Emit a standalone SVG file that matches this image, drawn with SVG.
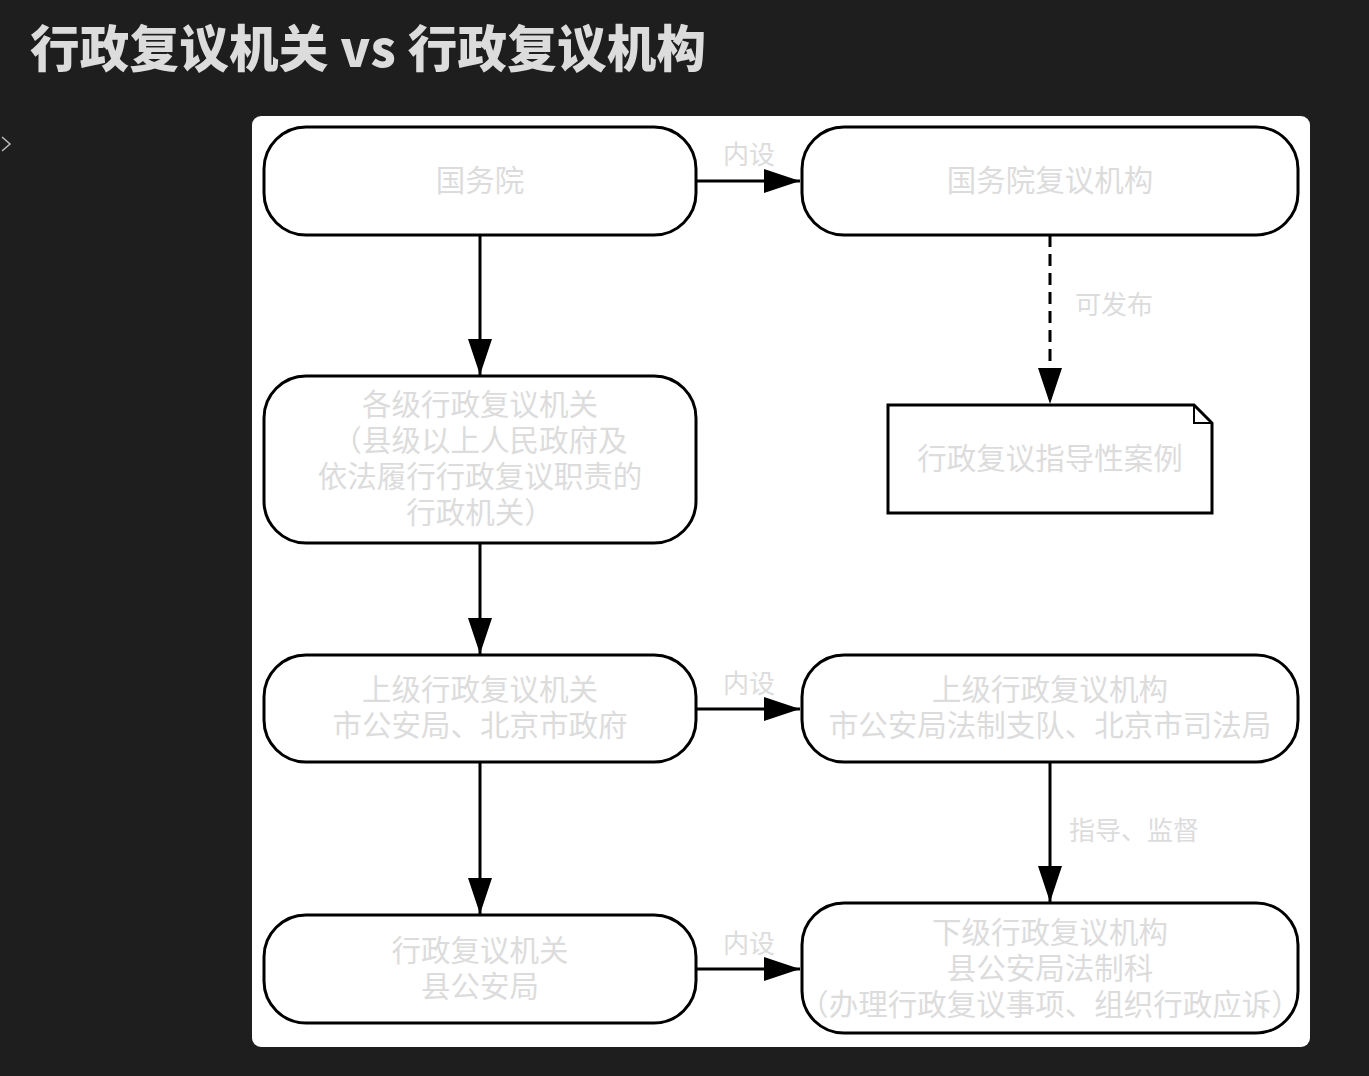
<svg xmlns="http://www.w3.org/2000/svg" width="1369" height="1076" viewBox="0 0 1369 1076">
<defs>
<style>
.bg{fill:#1e1e1e}
.panel{fill:#ffffff}
.node{fill:#ffffff;stroke:#000000;stroke-width:3}
.t{font-family:"Noto Sans CJK SC","Noto Sans",sans-serif;font-size:29.5px;fill:#dcdcdc;text-anchor:middle}
.lbl{font-family:"Noto Sans CJK SC","Noto Sans",sans-serif;font-size:26px;fill:#dcdcdc;text-anchor:middle}
.edge{fill:none;stroke:#000000;stroke-width:3}
.dash{stroke-dasharray:12 7}
.title{font-family:"Noto Sans CJK SC","Noto Sans",sans-serif;font-size:49.5px;font-weight:900;fill:#dcdcdc}
</style>
<marker id="arr" viewBox="0 0 36 24" refX="36" refY="12" markerWidth="36" markerHeight="24" markerUnits="userSpaceOnUse" orient="auto">
<path d="M0,0 L36,12 L0,24 Z" fill="#000000"/>
</marker>
</defs>
<rect class="bg" x="0" y="0" width="1369" height="1076"/>
<text class="title" x="30" y="67" textLength="676" lengthAdjust="spacing">行政复议机关 vs 行政复议机构</text>
<path d="M2,137 L10,144 L2,151" fill="none" stroke="#bbbbbb" stroke-width="1.5"/>
<rect class="panel" x="252" y="116" width="1058" height="931" rx="9"/>

<g id="connectors">
<path class="edge" d="M696,181 L800,181" marker-end="url(#arr)"/>
<text class="lbl" x="749" y="164">内设</text>
<path class="edge" d="M480,235 L480,375" marker-end="url(#arr)"/>
<path class="edge dash" d="M1050,235 L1050,404" marker-end="url(#arr)"/>
<text class="lbl" x="1114" y="314">可发布</text>
<path class="edge" d="M480,543 L480,654" marker-end="url(#arr)"/>
<path class="edge" d="M696,709 L800,709" marker-end="url(#arr)"/>
<text class="lbl" x="749" y="693">内设</text>
<path class="edge" d="M480,762 L480,914" marker-end="url(#arr)"/>
<path class="edge" d="M1050,762 L1050,902" marker-end="url(#arr)"/>
<text class="lbl" x="1134" y="840">指导、监督</text>
<path class="edge" d="M696,969 L800,969" marker-end="url(#arr)"/>
<text class="lbl" x="749" y="953">内设</text>
</g>

<g id="n-guowuyuan">
<rect class="node" x="264" y="127" width="432" height="108" rx="42"/>
<text class="t" x="480" y="191">国务院</text>
</g>
<g id="n-guowuyuan-jigou">
<rect class="node" x="802" y="127" width="496" height="108" rx="42"/>
<text class="t" x="1050" y="191">国务院复议机构</text>
</g>
<g id="n-geji">
<rect class="node" x="264" y="376" width="432" height="167" rx="42"/>
<text class="t" y="415"><tspan x="480">各级行政复议机关</tspan><tspan x="480" dy="36">（县级以上人民政府及</tspan><tspan x="480" dy="36">依法履行行政复议职责的</tspan><tspan x="480" dy="36">行政机关）</tspan></text>
</g>
<g id="n-anli">
<path class="node" d="M888,405 L1194,405 L1212,423 L1212,513 L888,513 Z"/>
<path d="M1194,405 L1194,423 L1212,423" fill="none" stroke="#000000" stroke-width="2"/>
<text class="t" x="1050" y="469">行政复议指导性案例</text>
</g>
<g id="n-shangji-jiguan">
<rect class="node" x="264" y="655" width="432" height="107" rx="42"/>
<text class="t" y="700"><tspan x="480">上级行政复议机关</tspan><tspan x="480" dy="36">市公安局、北京市政府</tspan></text>
</g>
<g id="n-shangji-jigou">
<rect class="node" x="802" y="655" width="496" height="107" rx="42"/>
<text class="t" y="700"><tspan x="1050">上级行政复议机构</tspan><tspan x="1050" dy="36">市公安局法制支队、北京市司法局</tspan></text>
</g>
<g id="n-xian-jiguan">
<rect class="node" x="264" y="915" width="432" height="108" rx="42"/>
<text class="t" y="961"><tspan x="480">行政复议机关</tspan><tspan x="480" dy="36">县公安局</tspan></text>
</g>
<g id="n-xiaji-jigou">
<rect class="node" x="802" y="903" width="496" height="130" rx="42"/>
<text class="t" y="943"><tspan x="1050">下级行政复议机构</tspan><tspan x="1050" dy="36">县公安局法制科</tspan><tspan x="1050" dy="36">（办理行政复议事项、组织行政应诉）</tspan></text>
</g>
</svg>
